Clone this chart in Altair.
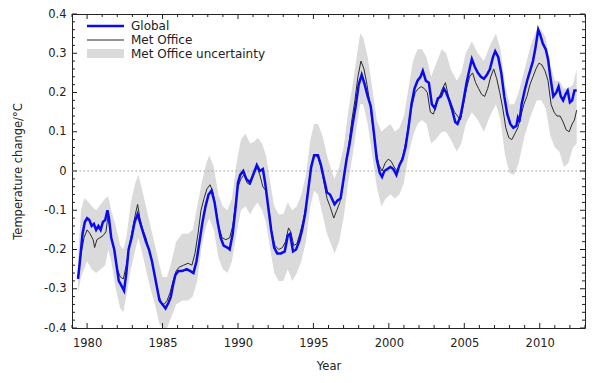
import altair as alt
import pandas as pd

# ---------------- data ----------------
global_years = [1979.40, 1979.55, 1979.70, 1979.85, 1980.00, 1980.15, 1980.30, 1980.45, 1980.60, 1980.75,
                1980.90, 1981.05, 1981.20, 1981.35, 1981.45, 1981.60, 1981.80, 1981.95, 1982.10, 1982.25,
                1982.45, 1982.60, 1982.75, 1982.95, 1983.15, 1983.35, 1983.50, 1983.70, 1983.90, 1984.10,
                1984.30, 1984.50, 1984.65, 1984.80, 1985.00, 1985.20, 1985.40, 1985.55, 1985.70, 1985.85,
                1986.05, 1986.30, 1986.60, 1986.85, 1987.05, 1987.25, 1987.45, 1987.65, 1987.85, 1988.05,
                1988.25, 1988.45, 1988.65, 1988.85, 1989.05, 1989.30, 1989.45, 1989.65, 1989.85, 1990.00,
                1990.15, 1990.35, 1990.55, 1990.80, 1991.00, 1991.25, 1991.45, 1991.65, 1991.80, 1992.00,
                1992.20, 1992.40, 1992.60, 1992.85, 1993.10, 1993.30, 1993.45, 1993.65, 1993.85, 1994.05,
                1994.25, 1994.45, 1994.65, 1994.85, 1995.05, 1995.30, 1995.50, 1995.70, 1995.90, 1996.10,
                1996.40, 1996.60, 1996.80, 1997.00, 1997.20, 1997.40, 1997.60, 1997.80, 1998.00, 1998.20,
                1998.40, 1998.60, 1998.80, 1999.00, 1999.20, 1999.40, 1999.55, 1999.70, 1999.90, 2000.10,
                2000.30, 2000.50, 2000.70, 2000.90, 2001.10, 2001.30, 2001.50, 2001.70, 2001.90, 2002.10,
                2002.25, 2002.45, 2002.65, 2002.85, 2003.05, 2003.25, 2003.45, 2003.65, 2003.80, 2004.00,
                2004.20, 2004.40, 2004.55, 2004.75, 2004.95, 2005.15, 2005.35, 2005.50, 2005.70, 2005.90,
                2006.10, 2006.30, 2006.50, 2006.70, 2006.90, 2007.05, 2007.25, 2007.45, 2007.65, 2007.85,
                2008.05, 2008.25, 2008.45, 2008.55, 2008.65, 2008.80, 2009.00, 2009.20, 2009.40, 2009.55,
                2009.70, 2009.90, 2010.05, 2010.20, 2010.40, 2010.55, 2010.70, 2010.90, 2011.10, 2011.25,
                2011.40, 2011.55, 2011.70, 2011.85, 2012.00, 2012.15, 2012.30, 2012.45]
global_vals = [-0.275, -0.22, -0.16, -0.13, -0.12, -0.125, -0.14, -0.135, -0.15, -0.14,
               -0.15, -0.13, -0.125, -0.10, -0.12, -0.17, -0.20, -0.24, -0.28, -0.29,
               -0.305, -0.26, -0.20, -0.17, -0.13, -0.11, -0.13, -0.155, -0.18, -0.20,
               -0.23, -0.27, -0.30, -0.33, -0.34, -0.35, -0.335, -0.32, -0.29, -0.265,
               -0.255, -0.255, -0.25, -0.255, -0.26, -0.23, -0.18, -0.13, -0.09, -0.06,
               -0.05, -0.08, -0.13, -0.17, -0.19, -0.195, -0.20, -0.16, -0.09, -0.03,
               -0.01, 0.0, -0.02, -0.03, -0.01, 0.015, 0.0, 0.005, -0.03, -0.09,
               -0.15, -0.195, -0.21, -0.21, -0.205, -0.165, -0.16, -0.205, -0.20, -0.18,
               -0.15, -0.11, -0.05, 0.01, 0.04, 0.04, 0.015, -0.02, -0.055, -0.06,
               -0.085, -0.075, -0.07, -0.02, 0.03, 0.07, 0.12, 0.165, 0.22, 0.245,
               0.22, 0.19, 0.165, 0.10, 0.03, -0.005, -0.015, 0.0, 0.005, 0.01,
               0.005, -0.01, 0.015, 0.03, 0.06, 0.11, 0.17, 0.21, 0.23, 0.24,
               0.255, 0.23, 0.225, 0.17, 0.16, 0.185, 0.19, 0.21, 0.20, 0.18,
               0.155, 0.125, 0.12, 0.14, 0.18, 0.225, 0.26, 0.285, 0.265, 0.25,
               0.24, 0.235, 0.245, 0.26, 0.29, 0.305, 0.29, 0.25, 0.19, 0.145,
               0.12, 0.11, 0.115, 0.135, 0.125, 0.17, 0.205, 0.235, 0.26, 0.28,
               0.31, 0.36, 0.345, 0.325, 0.31, 0.285, 0.24, 0.19, 0.20, 0.215,
               0.19, 0.18, 0.195, 0.205, 0.175, 0.18, 0.205, 0.205]

met_years = [1979.40, 1979.60, 1979.80, 1980.00, 1980.20, 1980.40, 1980.50, 1980.65, 1980.85, 1981.05,
             1981.25, 1981.40, 1981.55, 1981.80, 1982.00, 1982.20, 1982.40, 1982.60, 1982.80, 1983.00,
             1983.20, 1983.35, 1983.50, 1983.70, 1983.90, 1984.10, 1984.30, 1984.50, 1984.70, 1984.90,
             1985.10, 1985.30, 1985.50, 1985.70, 1985.90, 1986.10, 1986.40, 1986.70, 1986.95, 1987.15,
             1987.35, 1987.55, 1987.75, 1987.95, 1988.15, 1988.35, 1988.55, 1988.75, 1988.95, 1989.20,
             1989.45, 1989.65, 1989.85, 1990.00, 1990.20, 1990.40, 1990.60, 1990.80, 1991.00, 1991.25,
             1991.45, 1991.65, 1991.85, 1992.05, 1992.25, 1992.45, 1992.70, 1992.95, 1993.15, 1993.35,
             1993.50, 1993.70, 1993.90, 1994.10, 1994.30, 1994.50, 1994.70, 1994.90, 1995.10, 1995.30,
             1995.50, 1995.70, 1995.90, 1996.10, 1996.35, 1996.55, 1996.75, 1996.95, 1997.15, 1997.35,
             1997.55, 1997.75, 1997.95, 1998.15, 1998.35, 1998.55, 1998.75, 1998.95, 1999.15, 1999.35,
             1999.55, 1999.75, 1999.95, 2000.15, 2000.35, 2000.55, 2000.75, 2000.95, 2001.15, 2001.35,
             2001.55, 2001.75, 2001.95, 2002.15, 2002.35, 2002.55, 2002.75, 2002.95, 2003.15, 2003.35,
             2003.55, 2003.75, 2003.95, 2004.15, 2004.35, 2004.55, 2004.75, 2004.95, 2005.15, 2005.35,
             2005.55, 2005.75, 2005.95, 2006.15, 2006.35, 2006.55, 2006.75, 2006.95, 2007.15, 2007.35,
             2007.55, 2007.75, 2007.95, 2008.15, 2008.35, 2008.55, 2008.75, 2008.95, 2009.15, 2009.35,
             2009.55, 2009.75, 2009.95, 2010.15, 2010.35, 2010.55, 2010.75, 2010.95, 2011.15, 2011.35,
             2011.55, 2011.75, 2011.95, 2012.15, 2012.30, 2012.45]
met_vals = [-0.275, -0.21, -0.17, -0.15, -0.16, -0.175, -0.195, -0.175, -0.17, -0.165,
            -0.155, -0.11, -0.16, -0.20, -0.25, -0.27, -0.275, -0.24, -0.19, -0.15,
            -0.11, -0.085, -0.12, -0.15, -0.17, -0.20, -0.23, -0.27, -0.31, -0.335,
            -0.34, -0.33, -0.31, -0.28, -0.255, -0.245, -0.24, -0.235, -0.24, -0.21,
            -0.16, -0.10, -0.07, -0.045, -0.035, -0.055, -0.10, -0.145, -0.17, -0.175,
            -0.17, -0.14, -0.08, -0.04, -0.02, -0.01, -0.03, -0.035, -0.015, 0.01,
            -0.01, -0.04, -0.05, -0.10, -0.16, -0.19, -0.20, -0.195, -0.18, -0.145,
            -0.155, -0.19, -0.185, -0.16, -0.13, -0.09, -0.03, 0.02, 0.04, 0.035,
            0.01, -0.03, -0.07, -0.09, -0.12, -0.10, -0.08, -0.04, 0.02, 0.07,
            0.13, 0.18, 0.24, 0.28, 0.26, 0.22, 0.17, 0.11, 0.05, 0.015,
            0.0, 0.02, 0.03, 0.025, 0.01, 0.0, 0.02, 0.04, 0.08, 0.13,
            0.17, 0.20, 0.21, 0.215, 0.21, 0.20, 0.15, 0.145, 0.17, 0.19,
            0.21, 0.225, 0.19, 0.17, 0.15, 0.14, 0.13, 0.17, 0.21, 0.24,
            0.25, 0.225, 0.21, 0.195, 0.19, 0.21, 0.24, 0.26, 0.235, 0.20,
            0.16, 0.11, 0.085, 0.08, 0.095, 0.11, 0.14, 0.17, 0.19, 0.22,
            0.24, 0.26, 0.275, 0.27, 0.255, 0.23, 0.17, 0.15, 0.14, 0.14,
            0.125, 0.105, 0.10, 0.12, 0.13, 0.155]

band_years = [1979.40, 1979.60, 1979.80, 1980.00, 1980.30, 1980.60, 1980.90, 1981.20, 1981.40, 1981.60,
              1981.90, 1982.20, 1982.40, 1982.60, 1982.90, 1983.20, 1983.40, 1983.60, 1983.90, 1984.20,
              1984.50, 1984.80, 1985.00, 1985.30, 1985.60, 1985.90, 1986.30, 1986.70, 1987.00, 1987.30,
              1987.60, 1987.90, 1988.10, 1988.40, 1988.70, 1989.00, 1989.30, 1989.60, 1989.90, 1990.20,
              1990.50, 1990.80, 1991.10, 1991.30, 1991.60, 1991.85, 1992.10, 1992.40, 1992.70, 1993.00,
              1993.30, 1993.60, 1993.90, 1994.20, 1994.50, 1994.80, 1995.05, 1995.30, 1995.60, 1995.90,
              1996.20, 1996.40, 1996.70, 1997.00, 1997.30, 1997.60, 1997.90, 1998.10, 1998.30, 1998.60,
              1998.90, 1999.20, 1999.50, 1999.80, 2000.10, 2000.40, 2000.70, 2001.00, 2001.30, 2001.60,
              2001.90, 2002.20, 2002.50, 2002.80, 2003.10, 2003.50, 2003.80, 2004.10, 2004.50, 2004.80,
              2005.10, 2005.50, 2005.90, 2006.30, 2006.70, 2007.10, 2007.40, 2007.70, 2008.00, 2008.30,
              2008.60, 2009.00, 2009.40, 2009.80, 2010.10, 2010.40, 2010.70, 2011.00, 2011.30, 2011.60,
              2011.90, 2012.20, 2012.45]
band_lo = [-0.31, -0.27, -0.25, -0.23, -0.25, -0.26, -0.25, -0.24, -0.20, -0.23,
           -0.30, -0.35, -0.36, -0.32, -0.25, -0.20, -0.17, -0.20, -0.25, -0.30,
           -0.34, -0.39, -0.40, -0.40, -0.37, -0.34, -0.33, -0.33, -0.32, -0.28,
           -0.19, -0.14, -0.12, -0.15, -0.22, -0.25, -0.26, -0.23, -0.16, -0.10,
           -0.09, -0.11, -0.09, -0.08, -0.10, -0.13, -0.19, -0.26, -0.28, -0.28,
           -0.25, -0.28, -0.26, -0.23, -0.18, -0.09, -0.05, -0.06, -0.11, -0.16,
           -0.19, -0.21, -0.18, -0.12, -0.03, 0.04, 0.12, 0.17, 0.17, 0.12,
           0.04, -0.04, -0.09, -0.07, -0.06, -0.07, -0.06, -0.03, 0.04, 0.09,
           0.12, 0.13, 0.12, 0.07, 0.08, 0.10, 0.10, 0.08, 0.05, 0.07,
           0.12, 0.15, 0.13, 0.10, 0.14, 0.17, 0.13, 0.04, -0.005, -0.01,
           0.02, 0.09, 0.14, 0.18, 0.18, 0.16, 0.09, 0.06, 0.05, 0.01,
           0.02, 0.06, 0.07]
band_hi = [-0.22, -0.10, -0.07, -0.075, -0.09, -0.10, -0.085, -0.07, -0.065, -0.10,
           -0.14, -0.19, -0.20, -0.17, -0.08, -0.03, -0.01, -0.04, -0.09, -0.14,
           -0.19, -0.24, -0.27, -0.27, -0.23, -0.18, -0.16, -0.16, -0.15, -0.09,
           -0.03, 0.02, 0.04, 0.01, -0.06, -0.09, -0.10, -0.07, 0.02, 0.08,
           0.095, 0.07, 0.075, 0.085, 0.07, 0.04, -0.02, -0.09, -0.11, -0.11,
           -0.08, -0.10, -0.09, -0.06, -0.01, 0.08, 0.12, 0.12, 0.09, 0.04,
           0.0, -0.02, 0.01, 0.06, 0.15, 0.22, 0.30, 0.35, 0.34, 0.29,
           0.21, 0.13, 0.10, 0.11, 0.12, 0.10, 0.11, 0.14, 0.21, 0.28,
           0.31, 0.31, 0.29, 0.24, 0.27, 0.31, 0.30, 0.26, 0.23, 0.25,
           0.30, 0.33, 0.30, 0.28, 0.32, 0.35, 0.31, 0.22, 0.17, 0.17,
           0.20, 0.26, 0.32, 0.36, 0.36, 0.34, 0.27, 0.23, 0.23, 0.21,
           0.21, 0.22, 0.26]

legend_labels = ["Global", "Met Office", "Met Office uncertainty"]
x_major = [1980, 1985, 1990, 1995, 2000, 2005, 2010]
x_minor = [y for y in range(1979, 2014) if y % 5 != 0]
y_major = [-0.4, -0.3, -0.2, -0.1, 0.0, 0.1, 0.2, 0.3, 0.4]
y_minor = [round(-0.4 + 0.02 * i, 2) for i in range(41) if i % 5 != 0]

# ---------------- chart ----------------
W, H = 513, 314
FONT = "DejaVu Sans"
BLUE = "#0a0af0"
GREY = "#dadada"
INK = "#222222"

xs = alt.Scale(domain=[1979, 2013], nice=False, zero=False)
ys = alt.Scale(domain=[-0.4, 0.4], nice=False, zero=False)

df_g = pd.DataFrame({"year": global_years, "value": global_vals})
df_m = pd.DataFrame({"year": met_years, "value": met_vals})
df_b = pd.DataFrame({"year": band_years, "lo": band_lo, "hi": band_hi})

ylabel_expr = ("abs(datum.value) < 1e-9 ? '0' : (datum.value < 0 ? '-' + format(-datum.value, '.1f') "
               ": format(datum.value, '.1f'))")

# one identical axis definition shared by every layer, so the merged axis keeps it
AX = alt.Axis(
    title="Year", values=x_major, format="d", ticks=False, domain=False, grid=False,
    labelOverlap=False, labelFont=FONT, labelFontSize=11.5, labelColor=INK, labelPadding=9,
    titleFont=FONT, titleFontSize=11.5, titleFontWeight="normal", titleColor=INK, titlePadding=12)
AY = alt.Axis(
    title="Temperature change/°C", values=y_major, labelExpr=ylabel_expr, ticks=False, domain=False,
    grid=False, labelOverlap=False, labelFont=FONT, labelFontSize=11.5, labelColor=INK, labelPadding=6,
    titleFont=FONT, titleFontSize=11.5, titleFontWeight="normal", titleColor=INK, titlePadding=20)


def X(field):
    return alt.X(field, scale=xs, axis=AX)


def Y(field):
    return alt.Y(field, scale=ys, axis=AY)


band = alt.Chart(df_b).mark_area(color=GREY, opacity=1).encode(
    x=X("year:Q"), y=Y("lo:Q"), y2="hi:Q")

zero = alt.Chart(pd.DataFrame({"v": [0.0]})).mark_rule(
    color="#999999", strokeDash=[1.5, 2.5], strokeWidth=1
).encode(y=Y("v:Q"))

met = alt.Chart(df_m).mark_line(color="#2a2a2a", strokeWidth=1).encode(
    x=X("year:Q"), y=Y("value:Q"))

glob = alt.Chart(df_g).mark_line(color=BLUE, strokeWidth=2.5).encode(
    x=X("year:Q"), y=Y("value:Q"))


# inward ticks on all four sides
def xticks(vals, length):
    d = pd.DataFrame({"t": vals})
    bottom = alt.Chart(d).mark_rule(color=INK, strokeWidth=1).encode(
        x=X("t:Q"), y=alt.value(H), y2=alt.value(H - length))
    top = alt.Chart(d).mark_rule(color=INK, strokeWidth=1).encode(
        x=X("t:Q"), y=alt.value(0), y2=alt.value(length))
    return [bottom, top]


def yticks(vals, length):
    d = pd.DataFrame({"t": vals})
    left = alt.Chart(d).mark_rule(color=INK, strokeWidth=1).encode(
        y=Y("t:Q"), x=alt.value(0), x2=alt.value(length))
    right = alt.Chart(d).mark_rule(color=INK, strokeWidth=1).encode(
        y=Y("t:Q"), x=alt.value(W), x2=alt.value(W - length))
    return [left, right]


ticks = xticks(x_major, 5) + xticks(x_minor, 3) + yticks(y_major, 5) + yticks(y_minor, 3)

# legend (inside, top-left)
leg_rows = [pd.DataFrame({"label": [lab]}) for lab in legend_labels]
leg_blue = alt.Chart(leg_rows[0]).mark_rule(color=BLUE, strokeWidth=2.5).encode(
    x=alt.value(15), x2=alt.value(52), y=alt.value(12))
leg_black = alt.Chart(leg_rows[1]).mark_rule(color="#2a2a2a", strokeWidth=1).encode(
    x=alt.value(15), x2=alt.value(52), y=alt.value(26))
leg_grey = alt.Chart(leg_rows[2]).mark_rect(color=GREY).encode(
    x=alt.value(15), x2=alt.value(52), y=alt.value(35), y2=alt.value(44))
leg_texts = [
    alt.Chart(leg_rows[i]).mark_text(
        align="left", baseline="middle", font=FONT, fontSize=12, color=INK
    ).encode(x=alt.value(59), y=alt.value(yy), text="label:N")
    for i, yy in enumerate([12, 26, 40])
]

chart = alt.layer(
    band, zero, met, glob, *ticks, leg_blue, leg_black, leg_grey, *leg_texts
).properties(
    width=W, height=H,
    autosize=alt.AutoSizeParams(type="none"),
    padding={"left": 64, "top": 6, "right": 7, "bottom": 55},
).configure_view(stroke=INK, strokeWidth=1)

chart.save("out.html", embed_options={"renderer": "svg", "actions": False})
